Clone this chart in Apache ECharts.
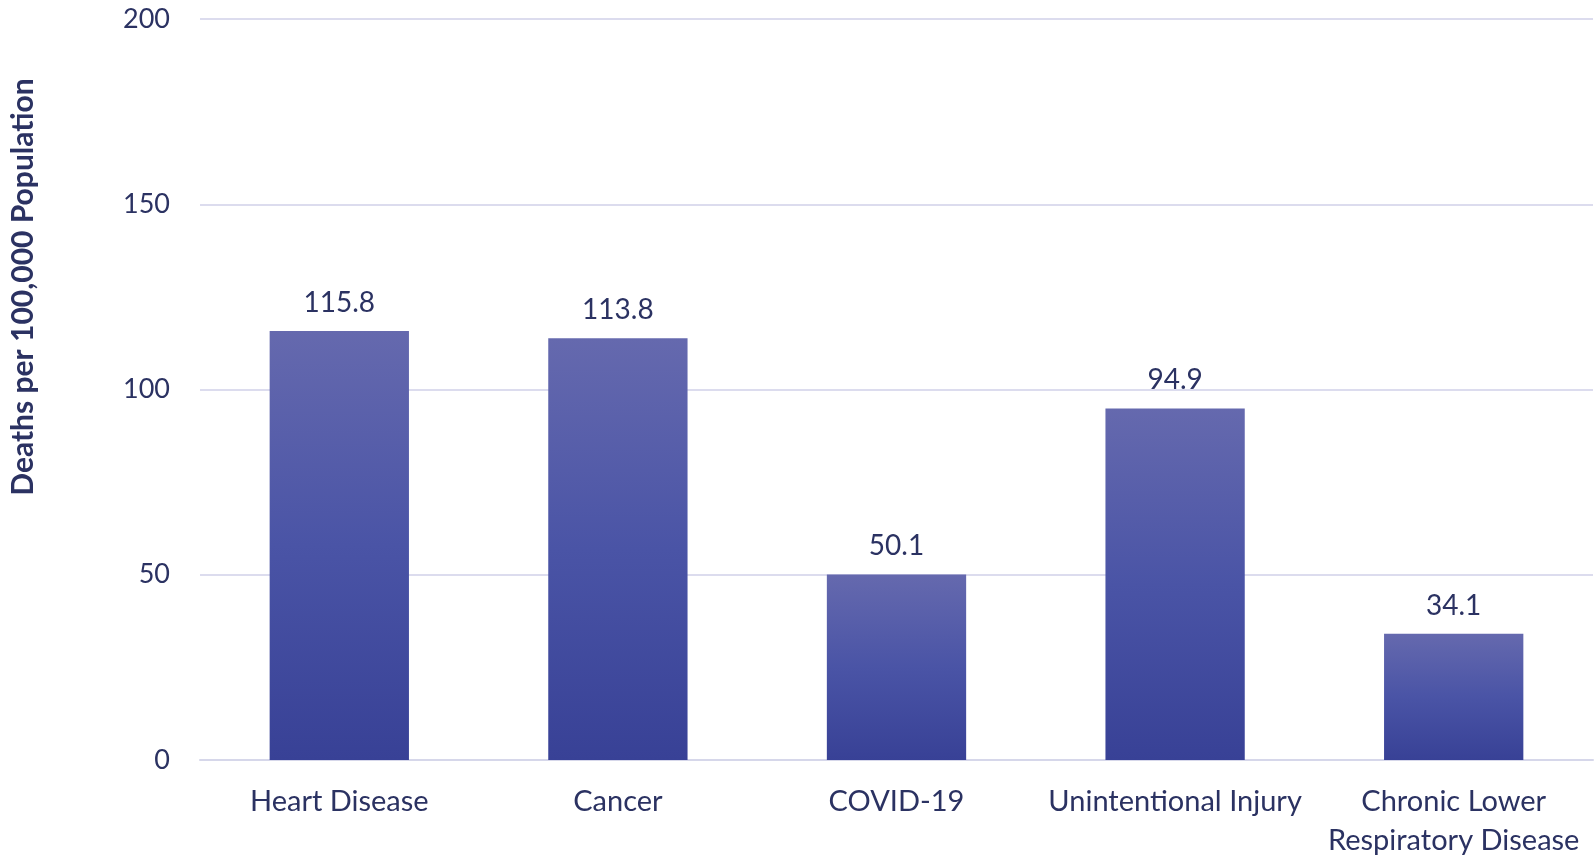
<!DOCTYPE html>
<html>
<head>
<meta charset="utf-8">
<script src="https://cdn.jsdelivr.net/npm/echarts@6/dist/echarts.min.js"></script>
<style>html,body{margin:0;padding:0;background:#fff}#c{width:1595px;height:855px}</style>
</head>
<body>
<div id="c"></div>
<script>
const categories = ['Heart Disease', 'Cancer', 'COVID-19', 'Unintentional Injury', 'Chronic Lower\nRespiratory Disease'];
const deathRates = [115.8, 113.8, 50.1, 94.9, 34.1];
const yTitle = 'Deaths per 100,000 Population';

const textColor = '#2b3262';
const font = 'Lato';
const chart = echarts.init(document.getElementById('c'));
chart.setOption({
  animation: false,
  grid: { left: 200, right: 2, top: 19, bottom: 95, containLabel: false, outerBoundsMode: 'none' },
  graphic: [{
    type: 'text',
    x: 23, y: 287,
    rotation: Math.PI / 2,
    style: {
      text: yTitle,
      fill: textColor,
      font: 'bold 30px Lato',
      align: 'center',
      verticalAlign: 'middle'
    }
  }],
  xAxis: {
    type: 'category',
    data: categories,
    axisLine: { lineStyle: { color: '#d6d7ea', width: 2 } },
    axisTick: { show: false },
    axisLabel: { color: textColor, fontFamily: font, fontSize: 29, margin: 22, lineHeight: 39, interval: 0 }
  },
  yAxis: {
    type: 'value',
    min: 0, max: 200, interval: 50,
    axisLine: { show: false },
    axisTick: { show: false },
    splitLine: { lineStyle: { color: '#dcdcee', width: 2 } },
    axisLabel: { color: textColor, fontFamily: font, fontSize: 27, margin: 30 }
  },
  series: [{
    type: 'bar',
    data: deathRates,
    barWidth: '50%',
    itemStyle: {
      color: new echarts.graphic.LinearGradient(0, 0, 0, 1, [
        { offset: 0, color: '#6569ae' },
        { offset: 0.5, color: '#4a54a6' },
        { offset: 1, color: '#384196' }
      ])
    },
    label: {
      show: true, position: 'top', distance: 14,
      color: textColor, fontFamily: font, fontSize: 28,
      formatter: p => p.value.toFixed(1)
    }
  }]
});
</script>
</body>
</html>
